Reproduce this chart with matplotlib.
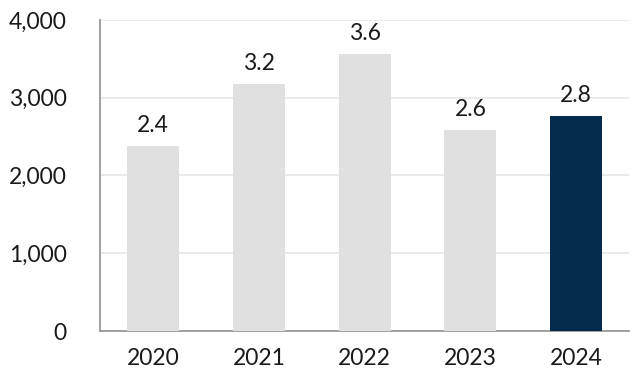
import matplotlib
matplotlib.use("Agg")
import matplotlib.pyplot as plt

years = ["2020", "2021", "2022", "2023", "2024"]
values = [2380, 3180, 3565, 2590, 2770]
labels = ["2.4", "3.2", "3.6", "2.6", "2.8"]
colors = ["#e0e0e0", "#e0e0e0", "#e0e0e0", "#e0e0e0", "#032b4e"]

plt.rcParams['font.family'] = ['Lato', 'DejaVu Sans']

fig = plt.figure(figsize=(6.38, 3.84), dpi=100)
ax = fig.add_axes([0.157, 0.138, 0.829, 0.81])

x = range(len(years))
bars = ax.bar(x, values, width=0.49, color=colors, zorder=3)
for b, lab in zip(bars, labels):
    ax.annotate(lab, (b.get_x() + b.get_width() / 2, b.get_height()),
                xytext=(0, 7), textcoords="offset points",
                ha="center", va="bottom", fontsize=16.5, color="#1a1a1a")

ax.set_xlim(-0.5, 4.5)
ax.set_ylim(0, 4000)
ax.set_yticks([0, 1000, 2000, 3000, 4000])
ax.set_yticklabels([f"{v:,}" for v in [0, 1000, 2000, 3000, 4000]])
ax.set_xticks(list(x))
ax.set_xticklabels(years)
ax.tick_params(axis="y", length=0, pad=24, labelsize=16.5, colors="#1a1a1a")
ax.tick_params(axis="x", length=0, pad=12, labelsize=16.5, colors="#1a1a1a")
ax.grid(axis="y", color="#e6e6e6", linewidth=1.2, zorder=0)

for s in ["top", "right"]:
    ax.spines[s].set_visible(False)
ax.spines["left"].set_color("#999999")
ax.spines["bottom"].set_color("#999999")
ax.spines["left"].set_linewidth(1.3)
ax.spines["bottom"].set_linewidth(1.3)

fig.savefig("out.png", dpi=100)
